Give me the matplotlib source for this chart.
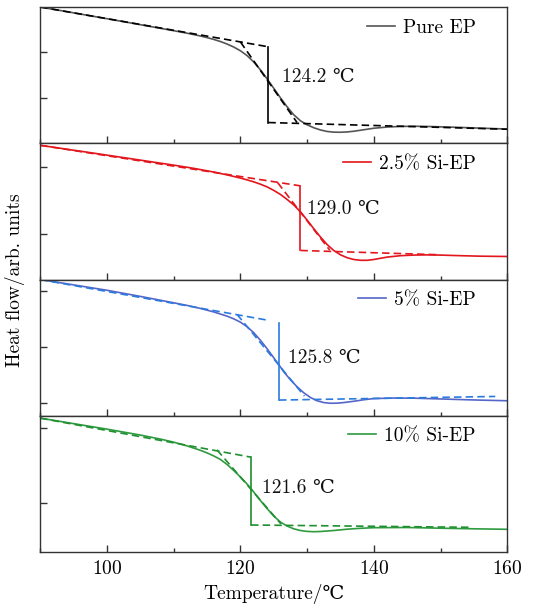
import numpy as np
import matplotlib.pyplot as plt
from matplotlib.ticker import MultipleLocator

plt.rcParams['font.family'] = ['cmr10', 'DejaVu Serif']
plt.rcParams['mathtext.fontset'] = 'cm'
plt.rcParams['axes.formatter.use_mathtext'] = True

# DSC traces (heat flow, arb. units) for each sample
labels = ["Pure EP", "2.5% Si-EP", "5% Si-EP", "10% Si-EP"]
tg = [124.2, 129.0, 125.8, 121.6]

t_pure = [90, 94, 98, 102, 106, 110, 112, 114, 115, 116, 117, 118, 119, 120, 121, 122,
          123, 123.5, 124.2, 125, 126, 127, 128, 129, 130, 131, 132, 133, 134, 135, 136,
          137, 138, 139, 140, 142, 144, 146, 148, 150, 153, 156, 160]
hf_pure = [1.36, 1.314, 1.267, 1.22, 1.172, 1.124, 1.099, 1.071, 1.055, 1.037, 1.016,
           0.991, 0.961, 0.924, 0.876, 0.812, 0.734, 0.69, 0.625, 0.55, 0.455, 0.365,
           0.285, 0.225, 0.185, 0.155, 0.133, 0.118, 0.111, 0.11, 0.113, 0.12, 0.13,
           0.14, 0.15, 0.162, 0.168, 0.17, 0.168, 0.164, 0.158, 0.151, 0.142]

t_25 = [90, 95, 100, 105, 110, 113, 116, 118, 120, 121, 122, 123, 124, 125, 126, 127,
        128, 129, 130, 131, 132, 133, 134, 135, 136, 137, 138, 139, 140, 141, 142, 144,
        146, 148, 150, 153, 156, 160]
hf_25 = [1.34, 1.291, 1.242, 1.192, 1.142, 1.11, 1.073, 1.045, 1.013, 0.995, 0.975,
         0.952, 0.925, 0.89, 0.85, 0.80, 0.745, 0.677, 0.594, 0.508, 0.425, 0.35, 0.29,
         0.247, 0.218, 0.20, 0.192, 0.192, 0.20, 0.212, 0.224, 0.238, 0.244, 0.246,
         0.244, 0.238, 0.233, 0.23]

t_5 = [90, 95, 100, 105, 110, 112, 114, 116, 118, 119, 120, 121, 122, 123, 123.5, 124,
       125, 125.8, 126.5, 127.5, 128.5, 129.5, 130.5, 131.5, 132.5, 133.5, 134.5, 135.5,
       137, 138.5, 140, 143, 146, 150, 155, 160]
hf_5 = [1.36, 1.307, 1.253, 1.192, 1.128, 1.102, 1.072, 1.037, 0.995, 0.968, 0.935, 0.89,
        0.83, 0.755, 0.713, 0.67, 0.58, 0.507, 0.44, 0.36, 0.29, 0.23, 0.183, 0.15,
        0.132, 0.125, 0.126, 0.132, 0.145, 0.16, 0.172, 0.177, 0.176, 0.168, 0.158, 0.15]

t_10 = [90, 95, 100, 105, 108, 110, 112, 114, 115, 116, 117, 118, 119, 120, 121, 122,
        123, 124, 125, 126, 127, 128, 129, 130, 131, 132, 134, 136, 138, 140, 145, 150,
        155, 160]
hf_10 = [1.337, 1.282, 1.227, 1.168, 1.128, 1.097, 1.06, 1.016, 0.99, 0.96, 0.925, 0.875,
         0.815, 0.75, 0.68, 0.60, 0.515, 0.435, 0.36, 0.30, 0.26, 0.232, 0.215, 0.206,
         0.203, 0.205, 0.215, 0.228, 0.237, 0.243, 0.245, 0.238, 0.232, 0.227]

temps = [t_pure, t_25, t_5, t_10]
flows = [hf_pure, hf_25, hf_5, hf_10]

# tangent constructions: (x0, y0, x1, y1)
upper_tan = [(90, 1.36, 124.2, 0.963), (90, 1.34, 129.0, 0.935),
             (90, 1.36, 124.2, 0.953), (90, 1.337, 121.6, 0.947)]
slope_tan = [(120, 1.013, 128.5, 0.207), (125.6, 0.967, 133.4, 0.293),
             (119.5, 1.013, 129.6, 0.197), (116.5, 1.02, 126.1, 0.28)]
lower_tan = [(124.2, 0.207, 160, 0.14), (129.0, 0.29, 150, 0.247),
             (125.8, 0.157, 158.2, 0.193), (121.6, 0.27, 154.5, 0.247)]
tg_span = [(0.963, 0.207), (0.935, 0.29), (0.93, 0.157), (0.947, 0.27)]

yticks = [[0.45, 0.91], [0.45, 1.12], [0.13, 0.69, 1.25], [0.49, 1.24]]

line_colors = ["#555555", "#e3161d", "#5566c8", "#2e9b40"]
tan_colors = ["black", "#e3161d", "#2b7bde", "#1f8f30"]
text_pos = [(126.2, 0.657), (130.0, 0.707), (127.1, 0.577), (123.2, 0.643)]

fig, axes = plt.subplots(4, 1, figsize=(5.49, 6.10), dpi=100, sharex=True)
fig.subplots_adjust(left=0.073, right=0.924, top=0.9885, bottom=0.095, hspace=0)

for i, ax in enumerate(axes):
    ax.plot(temps[i], flows[i], color=line_colors[i], lw=1.2, label=labels[i])
    for seg in (upper_tan[i], slope_tan[i], lower_tan[i]):
        ax.plot([seg[0], seg[2]], [seg[1], seg[3]], color=tan_colors[i], lw=1.2,
                ls=(0, (4.5, 2.5)))
    ax.plot([tg[i], tg[i]], tg_span[i], color=tan_colors[i], lw=1.2)
    ax.text(text_pos[i][0], text_pos[i][1], f"{tg[i]:.1f} ℃", fontsize=14,
            va="center", ha="left", color="#111111")

    ax.set_xlim(90, 160)
    ax.set_ylim(0, 1.36)
    ax.set_yticks(yticks[i])
    ax.set_yticklabels([])
    ax.xaxis.set_major_locator(MultipleLocator(20))
    ax.xaxis.set_minor_locator(MultipleLocator(10))
    ax.tick_params(axis="both", which="major", direction="in", length=5,
                   width=1, color="#333333", labelsize=14, pad=6)
    ax.tick_params(axis="x", which="minor", direction="in", length=3,
                   width=1, color="#333333")
    for sp in ax.spines.values():
        sp.set_color("#333333")
        sp.set_linewidth(1.0)

    ax.legend(loc="upper right", bbox_to_anchor=(0.932, 0.915), frameon=False,
              fontsize=14, handlelength=1.45, handletextpad=0.4,
              borderaxespad=0, borderpad=0)

axes[-1].set_xlabel("Temperature/℃", fontsize=14, labelpad=4)
fig.text(0.027, 0.54, "Heat flow/arb. units", rotation=90, fontsize=14,
         ha="center", va="center")

fig.savefig("out.png", dpi=100)
